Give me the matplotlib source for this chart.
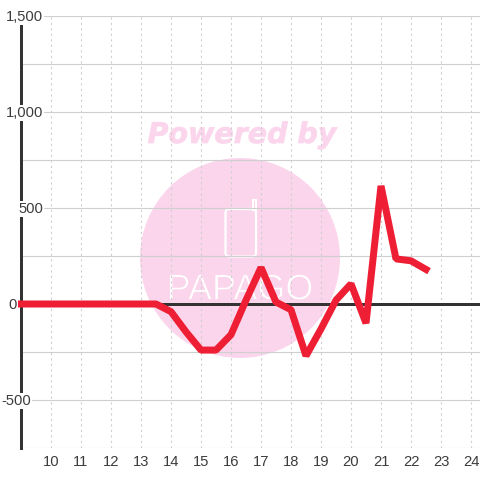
import matplotlib
matplotlib.use("Agg")
import matplotlib.pyplot as plt
import matplotlib.patheffects as pe
from matplotlib.patches import Circle, FancyBboxPatch, Rectangle

x_vals = [9, 9.5, 10, 10.5, 11, 11.5, 12, 12.5, 13, 13.5, 14, 14.5, 15, 15.5, 16, 16.5,
          17, 17.5, 18, 18.5, 19, 19.5, 20, 20.5, 21, 21.5, 22, 22.5]
y_vals = [0, 0, 0, 0, 0, 0, 0, 0, 0, 0, -40, -145, -240, -240, -160, 20,
          190, 10, -30, -270, -130, 20, 105, -100, 615, 235, 225, 180]
x_ticks = [10, 11, 12, 13, 14, 15, 16, 17, 18, 19, 20, 21, 22, 23, 24]
y_grid = [-750, -500, -250, 0, 250, 500, 750, 1000, 1250, 1500]
y_ticks = [-500, 0, 500, 1000, 1500]
y_labels = ["-500", "0", "500", "1,000", "1,500"]
# right edge of each y label in pixels, they dont line up in the original
y_label_right = [31, 17, 43, 43, 43]

W = 480.0
PINK = "#fbd5ec"
DARK = "#333333"
TEXT = "#3c3c3c"
plt.rcParams["font.family"] = ["Liberation Sans", "DejaVu Sans"]


def px(v):
    # pixels to points at dpi 100
    return v * 72.0 / 100.0


fig = plt.figure(figsize=(4.8, 4.8), dpi=100)
ax = fig.add_axes([21 / W, (W - 448) / W, (W - 21) / W, (448 - 16) / W])
ax.patch.set_visible(False)
ax.set_xlim(9, 24.3)
ax.set_ylim(-750, 1500)

# watermark sits on the figure, behind the axes (zorder below 0)
fig.patches.append(Circle((240 / W, 1 - 258 / W), 100 / W, transform=fig.transFigure,
                          facecolor=PINK, edgecolor="none", zorder=-3))
fig.text(242 / W, 1 - 135 / W, "Powered by", color=PINK, fontsize=px(28.5), fontweight="bold",
         fontstyle="italic", family="DejaVu Sans", ha="center", va="center", zorder=-3,
         path_effects=[pe.Stroke(linewidth=px(0.8), foreground=PINK)])
fig.patches.append(FancyBboxPatch((225.5 / W, 1 - 256.5 / W), 30.5 / W, 47.5 / W,
                                  boxstyle="round,pad=0,rounding_size=0.008",
                                  transform=fig.transFigure, facecolor="none",
                                  edgecolor="white", linewidth=px(2.2), zorder=-2))
fig.patches.append(Rectangle((253 / W, 1 - 210 / W), 3 / W, 10 / W, transform=fig.transFigure,
                             facecolor="none", edgecolor="white", linewidth=px(2), zorder=-2))
fig.text(240 / W, 1 - 290 / W, "PAPAGO", color="white", fontsize=px(36),
         family=["Liberation Sans Narrow", "Liberation Sans"], ha="center", va="center", zorder=-2,
         path_effects=[pe.Stroke(linewidth=px(0.9), foreground=PINK)])

ax.set_yticks(y_grid)
ax.set_xticks(x_ticks)
ax.grid(axis="y", color="#cfcfcf", linewidth=px(1.1))
ax.grid(axis="x", color="#cfcfcf", linewidth=px(1.1), linestyle=(0, (2, 3)))
ax.set_axisbelow(True)
ax.tick_params(length=0, labelleft=False, labelbottom=True, colors=TEXT,
               labelsize=px(14.8), pad=px(6.5))

for s in ["top", "right", "bottom"]:
    ax.spines[s].set_visible(False)
ax.spines["left"].set_color(DARK)
ax.spines["left"].set_linewidth(px(3))

ax.axhline(0, color=DARK, linewidth=px(3), zorder=3)
ax.plot(x_vals, y_vals, color="#ee1f35", linewidth=px(7), solid_capstyle="projecting",
        solid_joinstyle="bevel", clip_on=False, zorder=4)

# y labels have a white box that cuts the axis line and the grid
for val, lab, right in zip(y_ticks, y_labels, y_label_right):
    ax.annotate(lab, xy=(0, val), xycoords=("axes fraction", "data"),
                xytext=(px(right - 21), px(-1)), textcoords="offset points",
                ha="right", va="center", color=TEXT, fontsize=px(14.8), zorder=5,
                annotation_clip=False,
                bbox=dict(facecolor="white", edgecolor="none", pad=px(1.5)))

fig.savefig("out.png", dpi=100)
